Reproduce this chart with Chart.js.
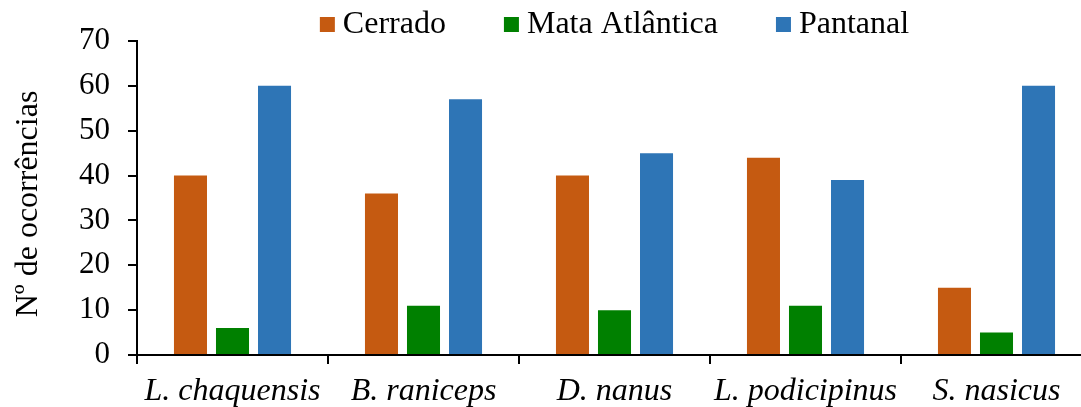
<!DOCTYPE html>
<html>
<head>
<meta charset="utf-8">
<script src="https://cdn.jsdelivr.net/npm/chart.js@4/dist/chart.umd.min.js"></script>
<style>
  html, body { margin: 0; padding: 0; background: #fff; overflow: hidden; }
  #wrap { width: 1081px; height: 407px; overflow: hidden; }
  canvas { display: block; }
</style>
</head>
<body>
<div id="wrap"><canvas id="c" width="1092" height="407"></canvas></div>
<script>
// Occurrences per species and biome
const species = ['L. chaquensis', 'B. raniceps', 'D. nanus', 'L. podicipinus', 'S. nasicus'];
const cerrado = [40, 36, 40, 44, 15];
const mataAtlantica = [6, 11, 10, 11, 5];
const pantanal = [60, 57, 45, 39, 60];
const yTicks = [0, 10, 20, 30, 40, 50, 60, 70];
const yTitle = 'Nº de ocorrências';

const FONT = "'Liberation Serif', 'Times New Roman', serif";

// Legend drawn as a row of squares and labels centred over the plot area
const topLegend = {
  id: 'topLegend',
  afterDraw(chart) {
    const ctx = chart.ctx;
    const area = chart.chartArea;
    const box = 15, gap = 8, itemGap = 58, baseline = 33;
    ctx.save();
    ctx.font = '32px ' + FONT;
    ctx.textBaseline = 'alphabetic';
    ctx.textAlign = 'left';
    const items = chart.data.datasets.map(d => ({
      text: d.label, color: d.backgroundColor, w: ctx.measureText(d.label).width
    }));
    const total = items.reduce((s, it) => s + box + gap + it.w, 0) + itemGap * (items.length - 1);
    let x = (area.left + area.right) / 2 - total / 2;
    items.forEach(it => {
      ctx.fillStyle = it.color;
      ctx.fillRect(x, 17, box, box);
      ctx.fillStyle = '#000';
      ctx.fillText(it.text, x + box + gap, baseline);
      x += box + gap + it.w + itemGap;
    });
    ctx.restore();
  }
};

// Rotated y-axis title, placed beside the value labels
const yAxisTitle = {
  id: 'yAxisTitle',
  afterDraw(chart) {
    const ctx = chart.ctx;
    ctx.save();
    ctx.font = '32px ' + FONT;
    ctx.fillStyle = '#000';
    ctx.textAlign = 'center';
    ctx.textBaseline = 'alphabetic';
    ctx.translate(37, 204);
    ctx.rotate(-Math.PI / 2);
    ctx.fillText(yTitle, 0, 0);
    ctx.restore();
  }
};

new Chart(document.getElementById('c'), {
  type: 'bar',
  data: {
    labels: species,
    datasets: [
      { label: 'Cerrado', data: cerrado, backgroundColor: '#C55A11' },
      { label: 'Mata Atlântica', data: mataAtlantica, backgroundColor: '#008000' },
      { label: 'Pantanal', data: pantanal, backgroundColor: '#2E75B6' }
    ]
  },
  options: {
    responsive: false,
    animation: false,
    categoryPercentage: 0.66,
    barPercentage: 0.786,
    layout: { padding: { top: 41, right: 0, left: 0, bottom: 0 } },
    plugins: {
      legend: { display: false },
      tooltip: { enabled: false }
    },
    scales: {
      x: {
        grid: { display: true, drawOnChartArea: false, drawTicks: true, tickLength: 9, color: '#000', lineWidth: 2, offset: true },
        border: { display: true, color: '#000', width: 2 },
        ticks: { color: '#000', font: { family: FONT, size: 32, style: 'italic' }, padding: 8, maxRotation: 0, autoSkip: false },
        afterFit(scale) { scale.height = 52; }
      },
      y: {
        min: 0,
        max: 70,
        afterBuildTicks(scale) { scale.ticks = yTicks.map(v => ({ value: v })); },
        grid: { display: true, drawOnChartArea: false, drawTicks: true, tickLength: 9, color: '#000', lineWidth: 2 },
        border: { display: true, color: '#000', width: 2 },
        ticks: { color: '#000', font: { family: FONT, size: 31 }, padding: 18 },
        afterFit(scale) { scale.width = 137; }
      }
    }
  },
  plugins: [topLegend, yAxisTitle]
});
</script>
</body>
</html>
